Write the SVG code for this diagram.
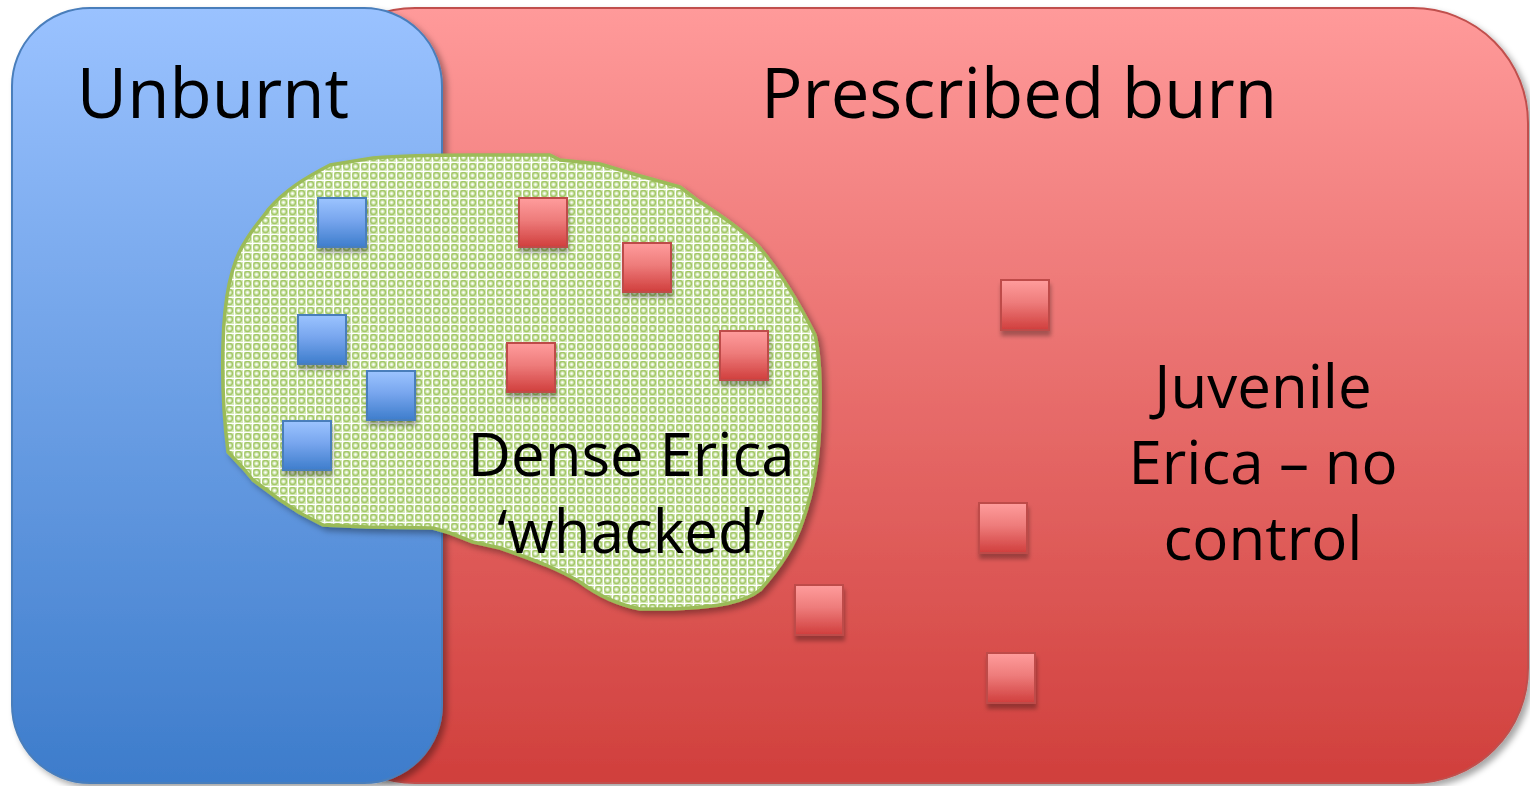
<svg xmlns="http://www.w3.org/2000/svg" width="1530" height="786" viewBox="0 0 1530 786">
  <defs>
    <linearGradient id="gRed" x1="0" y1="0" x2="0" y2="1">
      <stop offset="0" stop-color="#FF9A9A"/>
      <stop offset="1" stop-color="#D03F3C"/>
    </linearGradient>
    <linearGradient id="gBlue" x1="0" y1="0" x2="0" y2="1">
      <stop offset="0" stop-color="#9AC2FF"/>
      <stop offset="1" stop-color="#3D7CCB"/>
    </linearGradient>
    <linearGradient id="gSqRed" x1="0" y1="0" x2="0" y2="1">
      <stop offset="0" stop-color="#FF9D9D"/>
      <stop offset="0.45" stop-color="#EE7C7B"/>
      <stop offset="1" stop-color="#D03E3D"/>
    </linearGradient>
    <linearGradient id="gSqBlue" x1="0" y1="0" x2="0" y2="1">
      <stop offset="0" stop-color="#9CC4FF"/>
      <stop offset="0.45" stop-color="#78A6EE"/>
      <stop offset="1" stop-color="#3E7DCC"/>
    </linearGradient>
    <!-- lattice fill for the dense heath patch -->
    <pattern id="lattice" width="9" height="9" patternUnits="userSpaceOnUse">
      <rect width="9" height="9" fill="#D6E9BA"/>
      <circle cx="4.5" cy="4.5" r="3" fill="none" stroke="#A4C869" stroke-width="1.4"/>
      <path d="M0 0.5H9M0.5 0V9" stroke="#FFFFFF" stroke-width="1.2"/>
      <circle cx="4.5" cy="4.5" r="1.1" fill="#FFFFFF"/>
    </pattern>
    <filter id="shadow" x="-10%" y="-10%" width="130%" height="130%">
      <feDropShadow dx="4" dy="4" stdDeviation="3" flood-color="#000" flood-opacity="0.35"/>
    </filter>
    <filter id="sqShadow" x="-20%" y="-20%" width="150%" height="160%">
      <feDropShadow dx="1" dy="5" stdDeviation="2" flood-color="#000" flood-opacity="0.3"/>
    </filter>
  </defs>
  <style>
    .lbl { font-family: "Open Sans", "Lato", "DejaVu Sans", sans-serif; fill: #000; text-anchor: middle; }
    .big { font-size: 69px; }
    .mid { font-size: 60px; }
    .sqR { fill: url(#gSqRed); stroke: #BE4B48; stroke-width: 2; filter: url(#sqShadow); }
    .sqB { fill: url(#gSqBlue); stroke: #4A7EBB; stroke-width: 2; filter: url(#sqShadow); }
  </style>

  <!-- burnt area -->
  <g id="prescribed-burn">
    <rect x="300" y="8" width="1228" height="775" rx="115" ry="115" fill="url(#gRed)" stroke="#C0504D" stroke-width="2" filter="url(#shadow)"/>
    <text class="lbl big" x="1019" y="118">Prescribed burn</text>
  </g>

  <!-- unburnt control strip -->
  <g id="unburnt">
    <rect x="12" y="8" width="430" height="775" rx="78" ry="78" fill="url(#gBlue)" stroke="#4A7EBB" stroke-width="2" filter="url(#shadow)"/>
    <text class="lbl big" x="213" y="118">Unburnt</text>
  </g>

  <!-- dense Erica patch -->
  <g id="dense-erica">
    <path d="M373 158 C420 154 470 155 500 155 L550 155 L560 160 L600 164 L637 175 L680 187 L697 200 C720 215 740 228 760 248 C780 272 800 305 815 335 C821 360 821 400 819 440 C817 470 812 495 803 520 C795 545 780 568 760 590 C745 602 720 607 673 609 L640 609 C620 605 600 597 580 582 C560 570 540 562 500 548 L473 542 L450 533 L433 528 L367 527 L323 525 L300 513 L280 500 L253 480 L243 468 L228 452 C224 420 222 380 223 345 C224 300 230 265 245 242 C255 225 263 218 268 210 C285 190 305 178 330 165 Z" fill="url(#lattice)" stroke="#9BBB59" stroke-width="3.5" stroke-linejoin="round" filter="url(#shadow)"/>
    <text class="lbl mid" x="631" y="476">Dense Erica</text>
    <text class="lbl mid" x="631" y="553">‘whacked’</text>
  </g>

  <!-- plots in the unburnt strip -->
  <g id="plots-unburnt">
    <rect class="sqB" x="318" y="198" width="48" height="49"/>
    <rect class="sqB" x="298" y="315" width="48" height="49"/>
    <rect class="sqB" x="367" y="371" width="48" height="49"/>
    <rect class="sqB" x="283" y="421" width="48" height="49"/>
  </g>

  <!-- plots in the burnt area -->
  <g id="plots-burnt">
    <rect class="sqR" x="519" y="198" width="48" height="49"/>
    <rect class="sqR" x="623" y="243" width="48" height="49"/>
    <rect class="sqR" x="507" y="343" width="48" height="49"/>
    <rect class="sqR" x="720" y="331" width="48" height="49"/>
    <rect class="sqR" x="1001" y="280" width="48" height="50"/>
    <rect class="sqR" x="979" y="503" width="48" height="50"/>
    <rect class="sqR" x="795" y="585" width="48" height="50"/>
    <rect class="sqR" x="987" y="653" width="48" height="50"/>
  </g>

  <g id="juvenile-label">
    <text class="lbl mid" x="1263" y="408">Juvenile</text>
    <text class="lbl mid" x="1263" y="484">Erica – no</text>
    <text class="lbl mid" x="1263" y="560">control</text>
  </g>

  <g id="connectors"/>
</svg>
